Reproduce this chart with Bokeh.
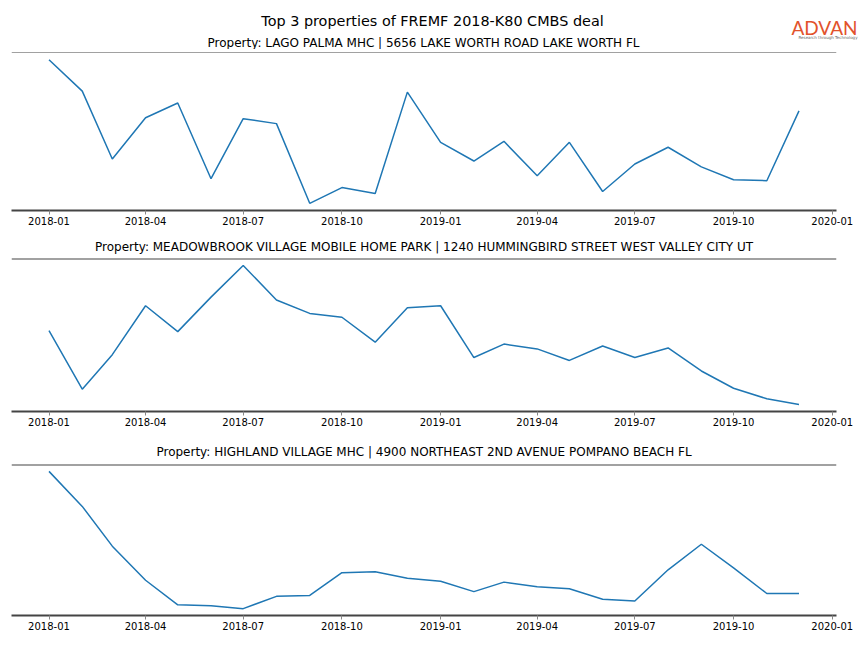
from datetime import datetime
from bokeh.plotting import figure
from bokeh.layouts import column, row
from bokeh.models import Range1d, FixedTicker, Span, Title, Label
from bokeh.embed import file_html
from bokeh.resources import INLINE

# ---------------- data ----------------
suptitle = "Top 3 properties of FREMF 2018-K80 CMBS deal"
months = ["2018-01", "2018-02", "2018-03", "2018-04", "2018-05", "2018-06",
          "2018-07", "2018-08", "2018-09", "2018-10", "2018-11", "2018-12",
          "2019-01", "2019-02", "2019-03", "2019-04", "2019-05", "2019-06",
          "2019-07", "2019-08", "2019-09", "2019-10", "2019-11", "2019-12"]
tick_labels = ["2018-01", "2018-04", "2018-07", "2018-10", "2019-01",
               "2019-04", "2019-07", "2019-10", "2020-01"]

titles = [
    "Property: LAGO PALMA MHC | 5656 LAKE WORTH ROAD LAKE WORTH FL",
    "Property: MEADOWBROOK VILLAGE MOBILE HOME PARK | 1240 HUMMINGBIRD STREET WEST VALLEY CITY UT",
    "Property: HIGHLAND VILLAGE MHC | 4900 NORTHEAST 2ND AVENUE POMPANO BEACH FL",
]
lago_palma = [152, 120, 51, 93, 108, 31, 92, 87, 6, 22, 16, 119,
              68, 49, 69, 34, 68, 18, 46, 63, 43, 30, 29, 100]
meadowbrook = [80, 19, 55, 106, 79, 115, 148, 112, 98, 94, 68, 104,
               106, 52, 66, 61, 49, 64, 52, 62, 38, 20, 9, 3]
highland = [148, 111, 69, 33, 7, 6, 3, 16, 17, 41, 42, 35,
            32, 21, 31, 26, 24, 13, 11, 44, 71, 46, 19, 19]
series = [lago_palma, meadowbrook, highland]

# ---------------- styling ----------------
FONT = "DejaVu Sans"
LINE_COLOR = "#1f77b4"
SPINE = "#444444"
W = 862
LEFT, RIGHT = 11, 26
HEADER_H = 49

dates = [datetime.strptime(m, "%Y-%m") for m in months]
tick_dates = [datetime.strptime(t, "%Y-%m") for t in tick_labels]
epoch = datetime(1970, 1, 1)
to_ms = lambda d: (d - epoch).total_seconds() * 1000.0
tick_ms = [to_ms(d) for d in tick_dates]
span = dates[-1] - dates[0]
x_start = dates[0] - span * 0.05
x_end = dates[-1] + span * 0.05

# header: suptitle + logo + first panel title (screen-like coordinates)
header = figure(width=W, height=HEADER_H,
                x_range=Range1d(0, W), y_range=Range1d(HEADER_H, 0),
                output_backend="svg", toolbar_location=None,
                min_border=0, outline_line_color=None)
header.axis.visible = False
header.grid.visible = False
header.add_layout(Label(x=432, y=20, text=suptitle, text_font=FONT,
                        text_font_size="14.4px", text_align="center",
                        text_baseline="middle", text_color="black"))
header.add_layout(Label(x=857, y=27, text="ADVAN", text_font="Lato",
                        text_font_size="19px", text_align="right",
                        text_baseline="middle", text_color="#e2522b"))
header.add_layout(Label(x=857, y=37, text="Research through Technology",
                        text_font=FONT, text_font_size="4px", text_align="right",
                        text_baseline="middle", text_color="#666666"))
header.add_layout(Label(x=423, y=42, text=titles[0], text_font=FONT,
                        text_font_size="12px", text_align="center",
                        text_baseline="middle", text_color="black"))

tops = [3, 28, 33]
frames = [158, 153, 151]
bottoms = [20, 20, 22]
standoffs = [0, 6, 8]
top_widths = [1, 2, 2]
panels = []
for i, vals in enumerate(series):
    lo, hi = min(vals), max(vals)
    pad = (hi - lo) * 0.05
    p = figure(width=W, height=tops[i] + frames[i] + bottoms[i],
               x_axis_type="datetime",
               x_range=Range1d(x_start, x_end),
               y_range=Range1d(lo - pad, hi + pad),
               output_backend="svg", toolbar_location=None,
               min_border_left=LEFT, min_border_right=RIGHT,
               min_border_top=tops[i], min_border_bottom=bottoms[i],
               outline_line_color=None, background_fill_color="white")
    if i > 0:
        t = Title(text=titles[i], align="center", text_font=FONT,
                  text_font_size="12px", text_font_style="normal",
                  text_color="black", standoff=standoffs[i],
                  vertical_align="top")
        p.add_layout(t, "above")
    p.yaxis.visible = False
    p.grid.visible = False
    p.line(dates, vals, line_color=LINE_COLOR, line_width=1.5)
    p.add_layout(Span(location=hi + pad, dimension="width",
                      line_color=SPINE, line_width=top_widths[i]))
    ax = p.xaxis[0]
    ax.ticker = FixedTicker(ticks=tick_ms)
    ax.major_label_overrides = {ms: lab for ms, lab in zip(tick_ms, tick_labels)}
    ax.minor_tick_line_color = None
    ax.axis_line_color = SPINE
    ax.axis_line_width = 2
    ax.major_tick_line_color = "#888888"
    ax.major_tick_in = 0
    ax.major_tick_out = 4
    ax.major_label_standoff = 2
    ax.major_label_text_font = FONT
    ax.major_label_text_font_size = "10px"
    ax.major_label_text_color = "black"
    panels.append(p)

layout = column(row(header, spacing=0), *panels, spacing=0)
open("out.html", "w").write(file_html(layout, INLINE))
